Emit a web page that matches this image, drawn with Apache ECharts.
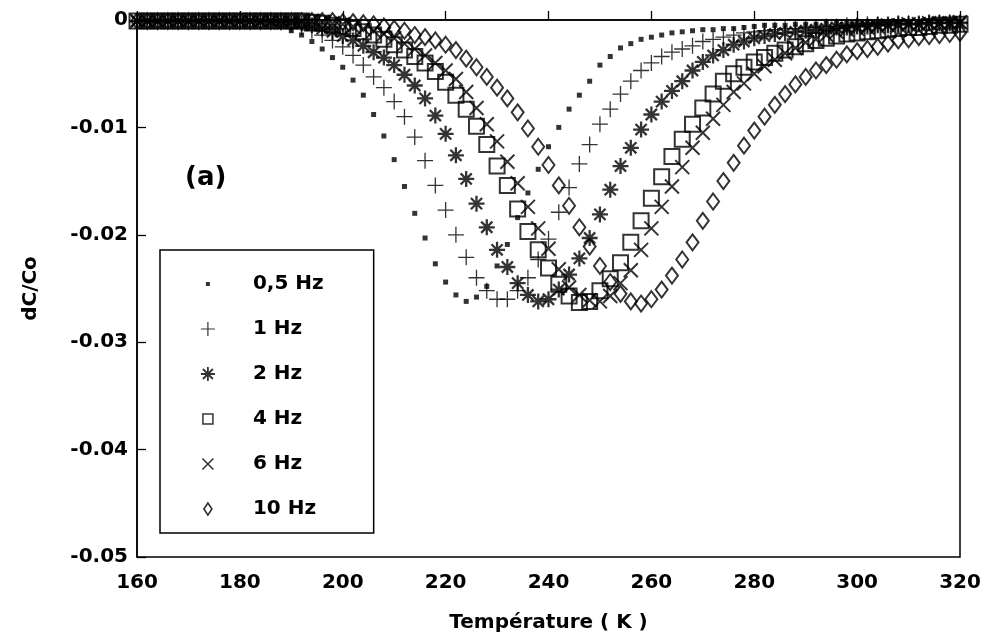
<!DOCTYPE html>
<html><head><meta charset="utf-8">
<script src="https://cdn.jsdelivr.net/npm/echarts@6/dist/echarts.min.js"></script>
<style>html,body{margin:0;padding:0;background:#fff}#c{width:985px;height:644px}</style>
</head><body><div id="c"></div>
<script>
const temps = [160,162,164,166,168,170,172,174,176,178,
180,182,184,186,188,190,192,194,196,198,
200,202,204,206,208,210,212,214,216,218,
220,222,224,226,228,230,232,234,236,238,
240,242,244,246,248,250,252,254,256,258,
260,262,264,266,268,270,272,274,276,278,
280,282,284,286,288,290,292,294,296,298,
300,302,304,306,308,310,312,314,316,318,
320];
const hz05 = [-0.0001,-0.0001,-0.0001,-0.0001,-0.0001,-0.0001,-0.0001,-0.0001,-0.0001,-0.0001,
-0.0001,-0.0001,-0.0002,-0.0003,-0.0006,-0.0010,-0.0014,-0.0020,-0.0027,-0.0035,
-0.0044,-0.0056,-0.0070,-0.0088,-0.0108,-0.0130,-0.0155,-0.0180,-0.0203,-0.0227,
-0.0244,-0.0256,-0.0262,-0.0258,-0.0248,-0.0229,-0.0209,-0.0184,-0.0161,-0.0139,
-0.0118,-0.0100,-0.0083,-0.0070,-0.0057,-0.0042,-0.0034,-0.0026,-0.0022,-0.0018,
-0.0016,-0.0014,-0.0012,-0.0011,-0.0010,-0.0009,-0.0009,-0.0008,-0.0008,-0.0007,
-0.0006,-0.0005,-0.0005,-0.0005,-0.0004,-0.0004,-0.0004,-0.0003,-0.0003,-0.0003,
-0.0003,-0.0002,-0.0002,-0.0002,-0.0002,-0.0002,-0.0002,-0.0001,-0.0001,-0.0001,
-0.0001];
const hz1 = [-0.0001,-0.0001,-0.0001,-0.0001,-0.0001,-0.0001,-0.0001,-0.0001,-0.0001,-0.0001,
-0.0001,-0.0001,-0.0001,-0.0001,-0.0002,-0.0004,-0.0007,-0.0010,-0.0014,-0.0019,
-0.0025,-0.0033,-0.0042,-0.0053,-0.0063,-0.0076,-0.0090,-0.0109,-0.0131,-0.0154,
-0.0177,-0.0200,-0.0221,-0.0240,-0.0252,-0.0260,-0.0260,-0.0252,-0.0240,-0.0223,
-0.0204,-0.0179,-0.0156,-0.0134,-0.0116,-0.0097,-0.0083,-0.0069,-0.0057,-0.0047,
-0.0040,-0.0034,-0.0030,-0.0027,-0.0024,-0.0020,-0.0018,-0.0016,-0.0014,-0.0012,
-0.0011,-0.0010,-0.0009,-0.0008,-0.0008,-0.0007,-0.0007,-0.0006,-0.0006,-0.0005,
-0.0005,-0.0004,-0.0004,-0.0004,-0.0003,-0.0003,-0.0003,-0.0002,-0.0002,-0.0002,
-0.0002];
const hz2 = [-0.0001,-0.0001,-0.0001,-0.0001,-0.0001,-0.0001,-0.0001,-0.0001,-0.0001,-0.0001,
-0.0001,-0.0001,-0.0001,-0.0001,-0.0001,-0.0002,-0.0003,-0.0005,-0.0008,-0.0011,
-0.0015,-0.0019,-0.0024,-0.0030,-0.0035,-0.0042,-0.0051,-0.0061,-0.0073,-0.0089,
-0.0106,-0.0126,-0.0148,-0.0171,-0.0193,-0.0214,-0.0230,-0.0245,-0.0256,-0.0262,
-0.0260,-0.0251,-0.0237,-0.0222,-0.0203,-0.0181,-0.0158,-0.0136,-0.0119,-0.0102,
-0.0088,-0.0076,-0.0066,-0.0057,-0.0047,-0.0039,-0.0033,-0.0028,-0.0023,-0.0020,
-0.0017,-0.0015,-0.0013,-0.0012,-0.0011,-0.0010,-0.0009,-0.0008,-0.0007,-0.0007,
-0.0006,-0.0006,-0.0005,-0.0005,-0.0004,-0.0004,-0.0004,-0.0003,-0.0003,-0.0003,
-0.0003];
const hz4 = [-0.0001,-0.0001,-0.0001,-0.0001,-0.0001,-0.0001,-0.0001,-0.0001,-0.0001,-0.0001,
-0.0001,-0.0001,-0.0001,-0.0001,-0.0001,-0.0001,-0.0001,-0.0002,-0.0003,-0.0005,
-0.0006,-0.0008,-0.0011,-0.0014,-0.0018,-0.0023,-0.0028,-0.0034,-0.0040,-0.0048,
-0.0058,-0.0070,-0.0083,-0.0099,-0.0116,-0.0136,-0.0154,-0.0176,-0.0197,-0.0214,
-0.0231,-0.0246,-0.0257,-0.0263,-0.0262,-0.0252,-0.0241,-0.0226,-0.0207,-0.0187,
-0.0166,-0.0146,-0.0127,-0.0111,-0.0097,-0.0082,-0.0069,-0.0057,-0.0050,-0.0044,
-0.0039,-0.0035,-0.0031,-0.0028,-0.0025,-0.0022,-0.0019,-0.0017,-0.0015,-0.0013,
-0.0012,-0.0011,-0.0010,-0.0009,-0.0008,-0.0007,-0.0007,-0.0006,-0.0005,-0.0005,
-0.0004];
const hz6 = [-0.0001,-0.0001,-0.0001,-0.0001,-0.0001,-0.0001,-0.0001,-0.0001,-0.0001,-0.0001,
-0.0001,-0.0001,-0.0001,-0.0001,-0.0001,-0.0001,-0.0001,-0.0001,-0.0002,-0.0003,
-0.0004,-0.0006,-0.0008,-0.0010,-0.0013,-0.0017,-0.0022,-0.0027,-0.0033,-0.0040,
-0.0047,-0.0055,-0.0067,-0.0082,-0.0097,-0.0113,-0.0132,-0.0152,-0.0174,-0.0194,
-0.0213,-0.0232,-0.0249,-0.0256,-0.0261,-0.0262,-0.0257,-0.0245,-0.0233,-0.0214,
-0.0194,-0.0174,-0.0155,-0.0137,-0.0119,-0.0105,-0.0092,-0.0079,-0.0067,-0.0059,
-0.0050,-0.0043,-0.0037,-0.0031,-0.0026,-0.0021,-0.0018,-0.0014,-0.0011,-0.0009,
-0.0008,-0.0007,-0.0006,-0.0005,-0.0005,-0.0004,-0.0004,-0.0003,-0.0003,-0.0003,
-0.0002];
const hz10 = [-0.0001,-0.0001,-0.0001,-0.0001,-0.0001,-0.0001,-0.0001,-0.0001,-0.0001,-0.0001,
-0.0001,-0.0001,-0.0001,-0.0001,-0.0001,-0.0001,-0.0001,-0.0001,-0.0001,-0.0001,
-0.0002,-0.0002,-0.0003,-0.0004,-0.0006,-0.0008,-0.0010,-0.0014,-0.0016,-0.0019,
-0.0023,-0.0028,-0.0036,-0.0044,-0.0053,-0.0063,-0.0073,-0.0086,-0.0101,-0.0118,
-0.0135,-0.0154,-0.0173,-0.0193,-0.0211,-0.0229,-0.0244,-0.0255,-0.0262,-0.0264,
-0.0260,-0.0251,-0.0238,-0.0223,-0.0207,-0.0187,-0.0169,-0.0150,-0.0133,-0.0117,
-0.0103,-0.0090,-0.0079,-0.0069,-0.0060,-0.0053,-0.0047,-0.0042,-0.0037,-0.0032,
-0.0029,-0.0027,-0.0025,-0.0022,-0.0019,-0.0018,-0.0016,-0.0015,-0.0014,-0.0013,
-0.0012];
const seriesNames = ['0,5 Hz','1 Hz','2 Hz','4 Hz','6 Hz','10 Hz'];
const seriesValues = [hz05, hz1, hz2, hz4, hz6, hz10];
const xAxisTitle = 'Température ( K )';
const yAxisTitle = 'dC/Co';
const panelLabel = '(a)';

const FONT = 'DejaVu Sans';
const hollow = w => ({color:'rgba(0,0,0,0)', borderColor:'#000', borderWidth:w});
const markers = [
  {symbol:'rect', size:5, style:{color:'#000', borderWidth:0},
   icon:'path://M0,0M14,14M5,5L9,5L9,9L5,9Z', iconStyle:{color:'#000', borderWidth:0}},
  {symbol:'path://M0,8L16,8M8,0L8,16', size:16, style:hollow(1.3),
   icon:'path://M0,7L14,7M7,0L7,14', iconStyle:hollow(1.2)},
  {symbol:'path://M8,0L8,16M0,8L16,8M2.4,2.4L13.6,13.6M13.6,2.4L2.4,13.6', size:16, style:hollow(2.3),
   icon:'path://M7,0L7,14M0,7L14,7M2,2L12,12M12,2L2,12', iconStyle:hollow(1.8)},
  {symbol:'rect', size:15, style:hollow(2),
   icon:'path://M0,0M14,14M2,2L12,2L12,12L2,12Z', iconStyle:hollow(1.5)},
  {symbol:'path://M0,0L14,14M14,0L0,14', size:14, style:hollow(2),
   icon:'path://M0,0M14,14M1.5,1.5L12.5,12.5M12.5,1.5L1.5,12.5', iconStyle:hollow(1.6)},
  {symbol:'diamond', size:[12,16], style:hollow(2),
   icon:'path://M0,0M14,14M7,1L11,7L7,13L3,7Z', iconStyle:hollow(1.6)}
];

const chart = echarts.init(document.getElementById('c'), null, {renderer:'canvas'});
chart.setOption({
  animation:false,
  backgroundColor:'#fff',
  textStyle:{fontFamily:FONT, fontWeight:'bold', color:'#000'},
  grid:{left:137, right:25, top:20, bottom:87, show:true, borderColor:'#000', borderWidth:1.5, outerBoundsMode:'none'},
  xAxis:{
    type:'value', min:160, max:320, interval:20,
    name:xAxisTitle, nameLocation:'middle', nameGap:56,
    nameTextStyle:{fontFamily:FONT, fontWeight:'bold', fontSize:20, color:'#000'},
    axisLine:{show:true, lineStyle:{color:'#000', width:1.5}},
    axisTick:{show:true, inside:true, length:9, lineStyle:{color:'#000', width:1.3}},
    axisLabel:{margin:16, fontFamily:FONT, fontWeight:'bold', fontSize:20, color:'#000'},
    splitLine:{show:false}
  },
  yAxis:{
    type:'value', min:-0.05, max:0, interval:0.01,
    name:yAxisTitle, nameLocation:'middle', nameRotate:90, nameGap:96,
    nameTextStyle:{fontFamily:FONT, fontWeight:'bold', fontSize:20, color:'#000'},
    axisLine:{show:true, lineStyle:{color:'#000', width:1.5}},
    axisTick:{show:true, inside:true, length:9, lineStyle:{color:'#000', width:1.3}},
    axisLabel:{margin:9, fontFamily:FONT, fontWeight:'bold', fontSize:20, color:'#000',
      formatter:v => Math.abs(v) < 1e-9 ? '0' : v.toFixed(2)},
    splitLine:{show:false}
  },
  legend:{
    orient:'vertical', left:160, top:250, selectedMode:false,
    padding:[24, 50, 14, 40],
    itemWidth:14, itemHeight:14, itemGap:25,
    borderColor:'#000', borderWidth:1.5, backgroundColor:'#fff',
    textStyle:{fontFamily:FONT, fontWeight:'bold', fontSize:20, lineHeight:20, color:'#000', padding:[0,0,0,33]},
    data: seriesNames.map((n,i) => ({name:n, icon:markers[i].icon, itemStyle:markers[i].iconStyle}))
  },
  graphic:[{type:'text', left:185, top:165, style:{text:panelLabel, font:'bold 26px "DejaVu Sans"', fill:'#000'}}],
  series: seriesNames.map((n,i) => ({
    name:n, type:'scatter',
    data: temps.map((t,j) => [t, seriesValues[i][j]]),
    symbol:markers[i].symbol, symbolSize:markers[i].size,
    itemStyle:markers[i].style,
    emphasis:{disabled:true}, silent:true, clip:false
  }))
});
</script></body></html>
